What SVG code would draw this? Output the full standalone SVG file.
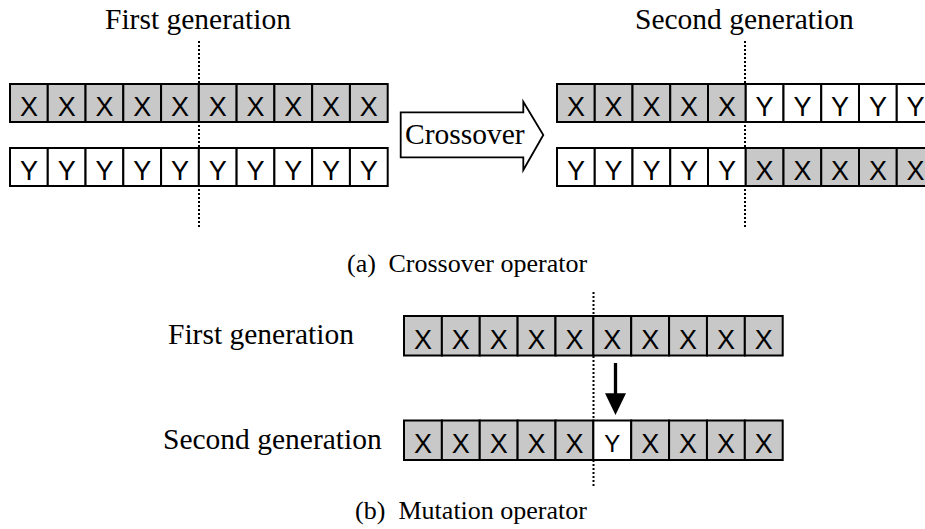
<svg xmlns="http://www.w3.org/2000/svg" width="925" height="529" viewBox="0 0 925 529">
<style>
.lbl{font-family:"Liberation Serif","Times New Roman",serif;font-size:29.5px;fill:#000}
.cap{font-family:"Liberation Serif","Times New Roman",serif;font-size:26px;fill:#000}
.g rect{fill:#c8c8c8;stroke:#000;stroke-width:2}
.w rect{fill:#fff;stroke:#000;stroke-width:2}
.c text{font-family:"Liberation Sans",Arial,sans-serif;font-size:27px;fill:#000;text-anchor:middle}
.dot{stroke:#000;stroke-width:2;stroke-dasharray:2 2;fill:none}
</style>
<rect width="925" height="529" fill="#fff"/>
<g id="connectors">
<line class="dot" x1="199" y1="41" x2="199" y2="229"/>
<line class="dot" x1="745" y1="41" x2="745" y2="229"/>
<line class="dot" x1="593.5" y1="292" x2="593.5" y2="486"/>
<polygon id="crossover-arrow" points="400.7,112.3 523.3,112.3 523.3,101.7 543.3,135 523.3,170 523.3,157.3 400.7,157.3" fill="#fff" stroke="#000" stroke-width="1.8"/>
<line x1="615.5" y1="363" x2="615.5" y2="396" stroke="#000" stroke-width="3.3"/>
<polygon points="605,393.3 626,393.3 615.5,415" fill="#000"/>
</g>
<g id="labels">
<text class="lbl" x="105" y="29">First generation</text>
<text class="lbl" x="635" y="29">Second generation</text>
<text class="lbl" x="405" y="143.5">Crossover</text>
<text class="cap" x="347" y="271.5">(a)</text>
<text class="cap" x="388.5" y="271.5">Crossover operator</text>
<text class="lbl" x="168" y="343.5">First generation</text>
<text class="lbl" x="163" y="448.5">Second generation</text>
<text class="cap" x="355" y="519">(b)</text>
<text class="cap" x="398.5" y="519">Mutation operator</text>
</g>
<g id="a-first-x" class="c">
<g class="g"><rect x="10" y="84" width="37.77" height="38"/><text x="28.9" y="115.5">X</text></g>
<g class="g"><rect x="47.77" y="84" width="37.77" height="38"/><text x="66.7" y="115.5">X</text></g>
<g class="g"><rect x="85.54" y="84" width="37.77" height="38"/><text x="104.4" y="115.5">X</text></g>
<g class="g"><rect x="123.31" y="84" width="37.77" height="38"/><text x="142.2" y="115.5">X</text></g>
<g class="g"><rect x="161.08" y="84" width="37.77" height="38"/><text x="180" y="115.5">X</text></g>
<g class="g"><rect x="198.85" y="84" width="37.77" height="38"/><text x="217.7" y="115.5">X</text></g>
<g class="g"><rect x="236.62" y="84" width="37.77" height="38"/><text x="255.5" y="115.5">X</text></g>
<g class="g"><rect x="274.39" y="84" width="37.77" height="38"/><text x="293.3" y="115.5">X</text></g>
<g class="g"><rect x="312.16" y="84" width="37.77" height="38"/><text x="331" y="115.5">X</text></g>
<g class="g"><rect x="349.93" y="84" width="37.77" height="38"/><text x="368.8" y="115.5">X</text></g>
</g>
<g id="a-first-y" class="c">
<g class="w"><rect x="10" y="148" width="37.77" height="38"/><text x="28.9" y="179.5">Y</text></g>
<g class="w"><rect x="47.77" y="148" width="37.77" height="38"/><text x="66.7" y="179.5">Y</text></g>
<g class="w"><rect x="85.54" y="148" width="37.77" height="38"/><text x="104.4" y="179.5">Y</text></g>
<g class="w"><rect x="123.31" y="148" width="37.77" height="38"/><text x="142.2" y="179.5">Y</text></g>
<g class="w"><rect x="161.08" y="148" width="37.77" height="38"/><text x="180" y="179.5">Y</text></g>
<g class="w"><rect x="198.85" y="148" width="37.77" height="38"/><text x="217.7" y="179.5">Y</text></g>
<g class="w"><rect x="236.62" y="148" width="37.77" height="38"/><text x="255.5" y="179.5">Y</text></g>
<g class="w"><rect x="274.39" y="148" width="37.77" height="38"/><text x="293.3" y="179.5">Y</text></g>
<g class="w"><rect x="312.16" y="148" width="37.77" height="38"/><text x="331" y="179.5">Y</text></g>
<g class="w"><rect x="349.93" y="148" width="37.77" height="38"/><text x="368.8" y="179.5">Y</text></g>
</g>
<g id="a-second-xy" class="c">
<g class="g"><rect x="557" y="84" width="37.75" height="38"/><text x="575.9" y="115.5">X</text></g>
<g class="g"><rect x="594.75" y="84" width="37.75" height="38"/><text x="613.6" y="115.5">X</text></g>
<g class="g"><rect x="632.5" y="84" width="37.75" height="38"/><text x="651.4" y="115.5">X</text></g>
<g class="g"><rect x="670.25" y="84" width="37.75" height="38"/><text x="689.1" y="115.5">X</text></g>
<g class="g"><rect x="708" y="84" width="37.75" height="38"/><text x="726.9" y="115.5">X</text></g>
<g class="w"><rect x="745.75" y="84" width="37.75" height="38"/><text x="764.6" y="115.5">Y</text></g>
<g class="w"><rect x="783.5" y="84" width="37.75" height="38"/><text x="802.4" y="115.5">Y</text></g>
<g class="w"><rect x="821.25" y="84" width="37.75" height="38"/><text x="840.1" y="115.5">Y</text></g>
<g class="w"><rect x="859" y="84" width="37.75" height="38"/><text x="877.9" y="115.5">Y</text></g>
<g class="w"><rect x="896.75" y="84" width="37.75" height="38"/><text x="915.6" y="115.5">Y</text></g>
</g>
<g id="a-second-yx" class="c">
<g class="w"><rect x="557" y="148" width="37.75" height="38"/><text x="575.9" y="179.5">Y</text></g>
<g class="w"><rect x="594.75" y="148" width="37.75" height="38"/><text x="613.6" y="179.5">Y</text></g>
<g class="w"><rect x="632.5" y="148" width="37.75" height="38"/><text x="651.4" y="179.5">Y</text></g>
<g class="w"><rect x="670.25" y="148" width="37.75" height="38"/><text x="689.1" y="179.5">Y</text></g>
<g class="w"><rect x="708" y="148" width="37.75" height="38"/><text x="726.9" y="179.5">Y</text></g>
<g class="g"><rect x="745.75" y="148" width="37.75" height="38"/><text x="764.6" y="179.5">X</text></g>
<g class="g"><rect x="783.5" y="148" width="37.75" height="38"/><text x="802.4" y="179.5">X</text></g>
<g class="g"><rect x="821.25" y="148" width="37.75" height="38"/><text x="840.1" y="179.5">X</text></g>
<g class="g"><rect x="859" y="148" width="37.75" height="38"/><text x="877.9" y="179.5">X</text></g>
<g class="g"><rect x="896.75" y="148" width="37.75" height="38"/><text x="915.6" y="179.5">X</text></g>
</g>
<g id="b-first" class="c">
<g class="g"><rect x="404" y="316" width="37.87" height="39.5"/><text x="422.9" y="348.5">X</text></g>
<g class="g"><rect x="441.87" y="316" width="37.87" height="39.5"/><text x="460.8" y="348.5">X</text></g>
<g class="g"><rect x="479.74" y="316" width="37.87" height="39.5"/><text x="498.7" y="348.5">X</text></g>
<g class="g"><rect x="517.61" y="316" width="37.87" height="39.5"/><text x="536.5" y="348.5">X</text></g>
<g class="g"><rect x="555.48" y="316" width="37.87" height="39.5"/><text x="574.4" y="348.5">X</text></g>
<g class="g"><rect x="593.35" y="316" width="37.87" height="39.5"/><text x="612.3" y="348.5">X</text></g>
<g class="g"><rect x="631.22" y="316" width="37.87" height="39.5"/><text x="650.2" y="348.5">X</text></g>
<g class="g"><rect x="669.09" y="316" width="37.87" height="39.5"/><text x="688" y="348.5">X</text></g>
<g class="g"><rect x="706.96" y="316" width="37.87" height="39.5"/><text x="725.9" y="348.5">X</text></g>
<g class="g"><rect x="744.83" y="316" width="37.87" height="39.5"/><text x="763.8" y="348.5">X</text></g>
</g>
<g id="b-second" class="c">
<g class="g"><rect x="404" y="420.5" width="37.87" height="39.5"/><text x="422.9" y="453">X</text></g>
<g class="g"><rect x="441.87" y="420.5" width="37.87" height="39.5"/><text x="460.8" y="453">X</text></g>
<g class="g"><rect x="479.74" y="420.5" width="37.87" height="39.5"/><text x="498.7" y="453">X</text></g>
<g class="g"><rect x="517.61" y="420.5" width="37.87" height="39.5"/><text x="536.5" y="453">X</text></g>
<g class="g"><rect x="555.48" y="420.5" width="37.87" height="39.5"/><text x="574.4" y="453">X</text></g>
<g class="w" id="mutated-cell"><rect x="593.35" y="420.5" width="37.87" height="39.5"/><text x="612.3" y="451.5" style="font-size:24px">Y</text></g>
<g class="g"><rect x="631.22" y="420.5" width="37.87" height="39.5"/><text x="650.2" y="453">X</text></g>
<g class="g"><rect x="669.09" y="420.5" width="37.87" height="39.5"/><text x="688" y="453">X</text></g>
<g class="g"><rect x="706.96" y="420.5" width="37.87" height="39.5"/><text x="725.9" y="453">X</text></g>
<g class="g"><rect x="744.83" y="420.5" width="37.87" height="39.5"/><text x="763.8" y="453">X</text></g>
</g>
</svg>
